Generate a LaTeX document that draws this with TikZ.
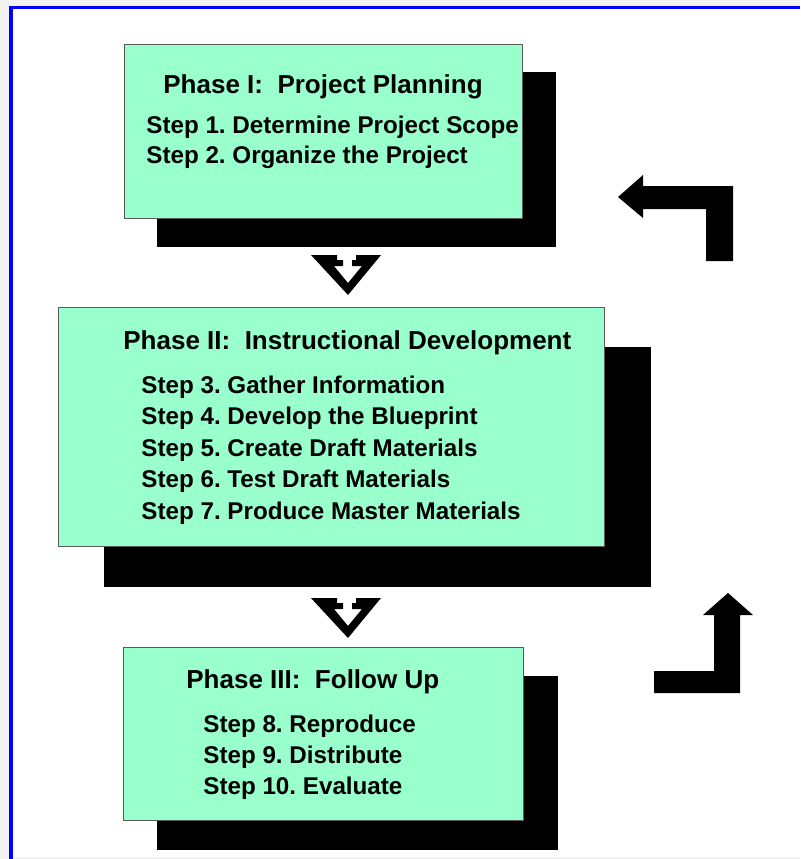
\documentclass[tikz,border=0pt]{standalone}
\usepackage{fontspec}
\setmainfont{Liberation Sans}
\usetikzlibrary{backgrounds}
\usetikzlibrary{calc}
\definecolor{mint}{RGB}{153,255,204}
\definecolor{pagegray}{RGB}{242,242,242}
\tikzstyle{phase}=[draw=black!65, line width=0.5pt, fill=mint, inner sep=0pt]
\tikzstyle{phasetitle}=[anchor=base west, inner sep=0pt, font=\fontsize{13}{15}\selectfont\bfseries]
\tikzstyle{stepline}=[anchor=base west, inner sep=0pt, font=\fontsize{12.1}{14}\selectfont\bfseries]
\tikzstyle{bigarrow}=[fill=black]
\frenchspacing

\begin{document}
\begin{tikzpicture}[x=0.5pt, y=-0.5pt]
\useasboundingbox (0,0) rectangle (800,859);
% the three phases
\node[phase, minimum width=199pt, minimum height=87pt] (p1) at (323,131) {};
\node[phase, minimum width=273pt, minimum height=119.5pt] (p2) at (331,426.5) {};
\node[phase, minimum width=200pt, minimum height=86.5pt] (p3) at (323,733.5) {};
\node[phasetitle] (h1) at (163,93) {Phase I:\ \ Project Planning};
\node[phasetitle] (h2) at (123,349) {Phase II:\ \ Instructional Development};
\node[phasetitle] (h3) at (186,688) {Phase III:\ \ Follow Up};
\foreach \n/\x/\y/\txt in {1/146/133/Determine Project Scope, 2/146/163/Organize the Project,
  3/141/393/Gather Information, 4/141/424.5/Develop the Blueprint, 5/141/456/Create Draft Materials,
  6/141/487.5/Test Draft Materials, 7/141/519/Produce Master Materials,
  8/203/732/Reproduce, 9/203/763/Distribute, 10/203/794/Evaluate} {
 \node[stepline] (s\n) at (\x,\y) {Step \n. \txt};
}
% arrows between the phases
\foreach \dy in {0,343} {
 \fill[bigarrow, shift={(0,\dy)}] (311,255) -- (337,255) -- (337,260) -- (343,260) -- (343,266) -- (334,266)
   -- (348,283) -- (362,266) -- (352,266) -- (352,260) -- (356,260) -- (356,255) -- (381,255) -- (348,295) -- cycle;
}
% loop back arrows
\fill[bigarrow] (618,197) -- (643,175) -- (643,186) -- (733,186) -- (733,261) -- (706,261) -- (706,209)
  -- (643,209) -- (643,218) -- cycle;
\fill[bigarrow] (728,593) -- (753,615) -- (740,615) -- (740,693) -- (654,693) -- (654,671) -- (714,671)
  -- (714,615) -- (703,615) -- cycle;
\begin{scope}[on background layer]
\fill[pagegray] (0,0) rectangle (800,859);
\fill[white] (10.8,7.7) rectangle (800,857);
\draw[blue, line width=1.75pt] (10.8,859) -- (10.8,7.7) -- (800,7.7);
\foreach \n/\dx/\dy in {p1/33/28.5, p2/46/40, p3/34/29.5}
 \fill ($(\n.north west)+(\dx,\dy)$) rectangle ($(\n.south east)+(\dx,\dy)$);
\end{scope}
\end{tikzpicture}
\end{document}
